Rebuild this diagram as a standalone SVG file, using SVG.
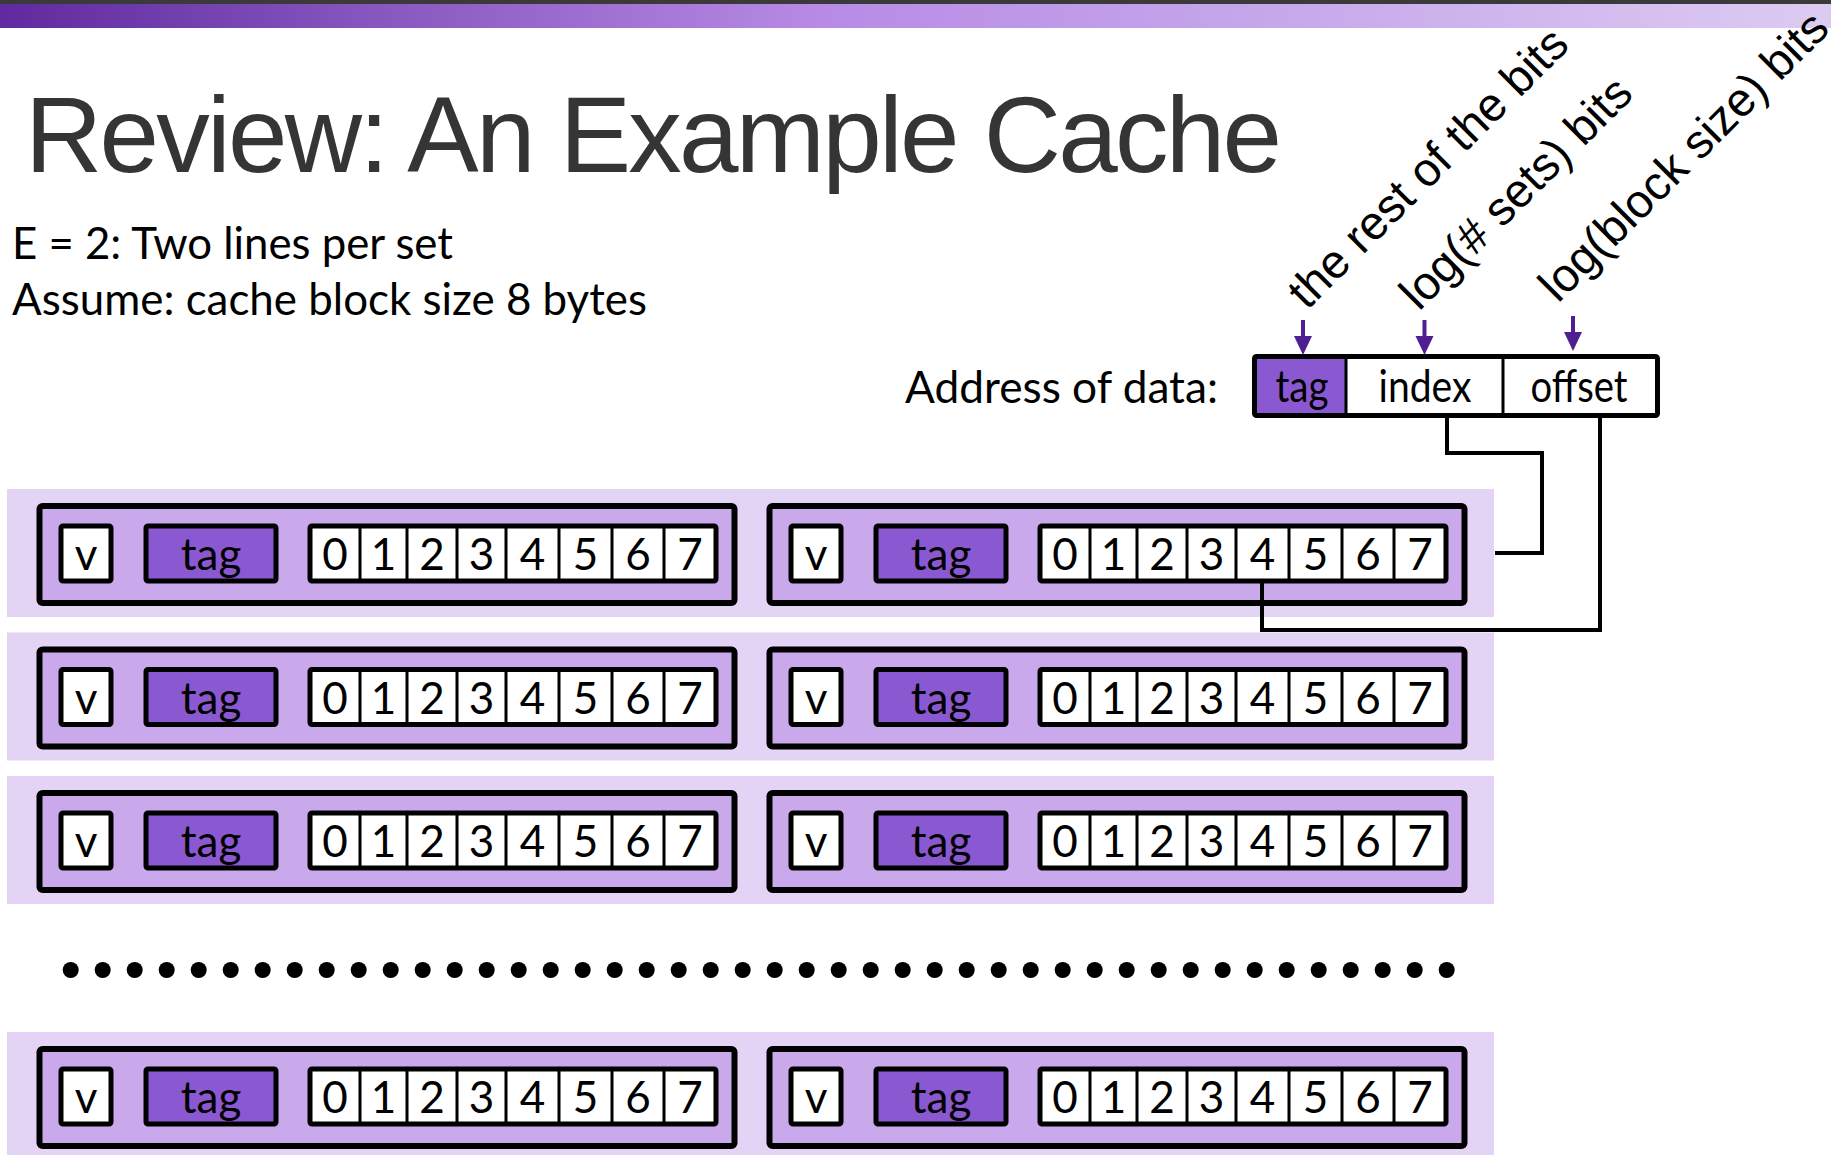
<svg xmlns="http://www.w3.org/2000/svg" width="1831" height="1155" viewBox="0 0 1831 1155">
<defs>
<linearGradient id="band" x1="0" y1="0" x2="1" y2="0">
<stop offset="0" stop-color="#5f2a9f"/>
<stop offset="0.45" stop-color="#b78be6"/>
<stop offset="0.7" stop-color="#c6a8eb"/>
<stop offset="1" stop-color="#ddcbf2"/>
</linearGradient>
<style>
.bg{fill:#e3d3f5}
.ln{fill:#c9a9ec;stroke:#000;stroke-width:6}
.wb{fill:#fff;stroke:#000;stroke-width:5}
.tg{fill:#8a58d0;stroke:#000;stroke-width:5}
.dv{fill:none;stroke:#000;stroke-width:3}
.t{font-family:Lato,"Open Sans",sans-serif;font-size:44px;text-anchor:middle;fill:#000}
.body{font-family:Lato,"Open Sans",sans-serif;font-size:44px;fill:#000}
.diag{font-family:"Liberation Sans",Arial,sans-serif;font-size:47px;fill:#000}
.conn{fill:none;stroke:#000;stroke-width:4}
.arr{stroke:#4f1f91;stroke-width:4;fill:none}
.ah{fill:#4f1f91}
.dot{fill:#000}
</style>
</defs>
<rect x="0" y="0" width="1831" height="1155" fill="#fff"/>
<rect x="0" y="0" width="1831" height="4" fill="#3a3a3a"/>
<rect x="0" y="4" width="1831" height="24" fill="url(#band)"/>

<g id="title">
<text x="25" y="172" font-family="'Liberation Sans',Arial,sans-serif" font-size="107" fill="#353535" textLength="1257" lengthAdjust="spacing">Review: An Example Cache</text>
</g>
<g id="notes">
<text class="body" x="12" y="259" textLength="441" lengthAdjust="spacingAndGlyphs">E = 2: Two lines per set</text>
<text class="body" x="12" y="315" textLength="635" lengthAdjust="spacingAndGlyphs">Assume: cache block size 8 bytes</text>
</g>

<g id="labels">
<text class="diag" transform="translate(1307,311) rotate(-45)">the rest of the bits</text>
<text class="diag" transform="translate(1419,312) rotate(-45)">log(# sets) bits</text>
<text class="diag" transform="translate(1558,304) rotate(-45)">log(block size) bits</text>
</g>

<g id="address">
<text class="body" x="905" y="403" textLength="313" lengthAdjust="spacingAndGlyphs">Address of data:</text>
<rect x="1257" y="359" width="89" height="56" fill="#8a58d0"/>
<rect x="1346" y="359" width="311" height="56" fill="#fff"/>
<rect x="1254.5" y="356.5" width="403" height="59" fill="none" stroke="#000" stroke-width="5" rx="2"/>
<path class="dv" d="M1346 356.5V415.5M1503 356.5V415.5"/>
<text class="t" x="1302" y="402" textLength="53" lengthAdjust="spacingAndGlyphs">tag</text>
<text class="t" x="1425" y="402" textLength="93" lengthAdjust="spacingAndGlyphs">index</text>
<text class="t" x="1579" y="402" textLength="97" lengthAdjust="spacingAndGlyphs">offset</text>
</g>

<g id="sets">
<g id="set1">
<rect class="bg" x="7" y="489" width="1487" height="128"/>
<g id="set1-line1">
<rect class="ln" x="39.5" y="506" width="695" height="97" rx="3"/>
<rect class="wb" x="61" y="526" width="50" height="55" rx="2"/>
<text class="t" x="86" y="570">v</text>
<rect class="tg" x="146" y="526" width="130" height="55" rx="2"/>
<text class="t" x="211" y="570">tag</text>
<rect class="wb" x="310" y="526" width="406" height="55" rx="2"/>
<path class="dv" d="M360 526V581M407 526V581M457 526V581M506 526V581M559 526V581M612 526V581M664 526V581"/>
<text class="t" x="335" y="570">0</text><text class="t" x="383.5" y="570">1</text><text class="t" x="432" y="570">2</text><text class="t" x="481.5" y="570">3</text><text class="t" x="532.5" y="570">4</text><text class="t" x="585.5" y="570">5</text><text class="t" x="638" y="570">6</text><text class="t" x="690" y="570">7</text>
</g>
<g id="set1-line2" transform="translate(730,0)">
<rect class="ln" x="39.5" y="506" width="695" height="97" rx="3"/>
<rect class="wb" x="61" y="526" width="50" height="55" rx="2"/>
<text class="t" x="86" y="570">v</text>
<rect class="tg" x="146" y="526" width="130" height="55" rx="2"/>
<text class="t" x="211" y="570">tag</text>
<rect class="wb" x="310" y="526" width="406" height="55" rx="2"/>
<path class="dv" d="M360 526V581M407 526V581M457 526V581M506 526V581M559 526V581M612 526V581M664 526V581"/>
<text class="t" x="335" y="570">0</text><text class="t" x="383.5" y="570">1</text><text class="t" x="432" y="570">2</text><text class="t" x="481.5" y="570">3</text><text class="t" x="532.5" y="570">4</text><text class="t" x="585.5" y="570">5</text><text class="t" x="638" y="570">6</text><text class="t" x="690" y="570">7</text>
</g>
</g>

<g id="set2" transform="translate(0,143.5)">
<rect class="bg" x="7" y="489" width="1487" height="128"/>
<g id="set2-line1">
<rect class="ln" x="39.5" y="506" width="695" height="97" rx="3"/>
<rect class="wb" x="61" y="526" width="50" height="55" rx="2"/>
<text class="t" x="86" y="570">v</text>
<rect class="tg" x="146" y="526" width="130" height="55" rx="2"/>
<text class="t" x="211" y="570">tag</text>
<rect class="wb" x="310" y="526" width="406" height="55" rx="2"/>
<path class="dv" d="M360 526V581M407 526V581M457 526V581M506 526V581M559 526V581M612 526V581M664 526V581"/>
<text class="t" x="335" y="570">0</text><text class="t" x="383.5" y="570">1</text><text class="t" x="432" y="570">2</text><text class="t" x="481.5" y="570">3</text><text class="t" x="532.5" y="570">4</text><text class="t" x="585.5" y="570">5</text><text class="t" x="638" y="570">6</text><text class="t" x="690" y="570">7</text>
</g>
<g id="set2-line2" transform="translate(730,0)">
<rect class="ln" x="39.5" y="506" width="695" height="97" rx="3"/>
<rect class="wb" x="61" y="526" width="50" height="55" rx="2"/>
<text class="t" x="86" y="570">v</text>
<rect class="tg" x="146" y="526" width="130" height="55" rx="2"/>
<text class="t" x="211" y="570">tag</text>
<rect class="wb" x="310" y="526" width="406" height="55" rx="2"/>
<path class="dv" d="M360 526V581M407 526V581M457 526V581M506 526V581M559 526V581M612 526V581M664 526V581"/>
<text class="t" x="335" y="570">0</text><text class="t" x="383.5" y="570">1</text><text class="t" x="432" y="570">2</text><text class="t" x="481.5" y="570">3</text><text class="t" x="532.5" y="570">4</text><text class="t" x="585.5" y="570">5</text><text class="t" x="638" y="570">6</text><text class="t" x="690" y="570">7</text>
</g>
</g>

<g id="set3" transform="translate(0,287)">
<rect class="bg" x="7" y="489" width="1487" height="128"/>
<g id="set3-line1">
<rect class="ln" x="39.5" y="506" width="695" height="97" rx="3"/>
<rect class="wb" x="61" y="526" width="50" height="55" rx="2"/>
<text class="t" x="86" y="570">v</text>
<rect class="tg" x="146" y="526" width="130" height="55" rx="2"/>
<text class="t" x="211" y="570">tag</text>
<rect class="wb" x="310" y="526" width="406" height="55" rx="2"/>
<path class="dv" d="M360 526V581M407 526V581M457 526V581M506 526V581M559 526V581M612 526V581M664 526V581"/>
<text class="t" x="335" y="570">0</text><text class="t" x="383.5" y="570">1</text><text class="t" x="432" y="570">2</text><text class="t" x="481.5" y="570">3</text><text class="t" x="532.5" y="570">4</text><text class="t" x="585.5" y="570">5</text><text class="t" x="638" y="570">6</text><text class="t" x="690" y="570">7</text>
</g>
<g id="set3-line2" transform="translate(730,0)">
<rect class="ln" x="39.5" y="506" width="695" height="97" rx="3"/>
<rect class="wb" x="61" y="526" width="50" height="55" rx="2"/>
<text class="t" x="86" y="570">v</text>
<rect class="tg" x="146" y="526" width="130" height="55" rx="2"/>
<text class="t" x="211" y="570">tag</text>
<rect class="wb" x="310" y="526" width="406" height="55" rx="2"/>
<path class="dv" d="M360 526V581M407 526V581M457 526V581M506 526V581M559 526V581M612 526V581M664 526V581"/>
<text class="t" x="335" y="570">0</text><text class="t" x="383.5" y="570">1</text><text class="t" x="432" y="570">2</text><text class="t" x="481.5" y="570">3</text><text class="t" x="532.5" y="570">4</text><text class="t" x="585.5" y="570">5</text><text class="t" x="638" y="570">6</text><text class="t" x="690" y="570">7</text>
</g>
</g>

<g id="set-last" transform="translate(0,543)">
<rect class="bg" x="7" y="489" width="1487" height="128"/>
<g id="setlast-line1">
<rect class="ln" x="39.5" y="506" width="695" height="97" rx="3"/>
<rect class="wb" x="61" y="526" width="50" height="55" rx="2"/>
<text class="t" x="86" y="570">v</text>
<rect class="tg" x="146" y="526" width="130" height="55" rx="2"/>
<text class="t" x="211" y="570">tag</text>
<rect class="wb" x="310" y="526" width="406" height="55" rx="2"/>
<path class="dv" d="M360 526V581M407 526V581M457 526V581M506 526V581M559 526V581M612 526V581M664 526V581"/>
<text class="t" x="335" y="570">0</text><text class="t" x="383.5" y="570">1</text><text class="t" x="432" y="570">2</text><text class="t" x="481.5" y="570">3</text><text class="t" x="532.5" y="570">4</text><text class="t" x="585.5" y="570">5</text><text class="t" x="638" y="570">6</text><text class="t" x="690" y="570">7</text>
</g>
<g id="setlast-line2" transform="translate(730,0)">
<rect class="ln" x="39.5" y="506" width="695" height="97" rx="3"/>
<rect class="wb" x="61" y="526" width="50" height="55" rx="2"/>
<text class="t" x="86" y="570">v</text>
<rect class="tg" x="146" y="526" width="130" height="55" rx="2"/>
<text class="t" x="211" y="570">tag</text>
<rect class="wb" x="310" y="526" width="406" height="55" rx="2"/>
<path class="dv" d="M360 526V581M407 526V581M457 526V581M506 526V581M559 526V581M612 526V581M664 526V581"/>
<text class="t" x="335" y="570">0</text><text class="t" x="383.5" y="570">1</text><text class="t" x="432" y="570">2</text><text class="t" x="481.5" y="570">3</text><text class="t" x="532.5" y="570">4</text><text class="t" x="585.5" y="570">5</text><text class="t" x="638" y="570">6</text><text class="t" x="690" y="570">7</text>
</g>
</g>
</g>

<g id="ellipsis">
<circle class="dot" cx="70.7" cy="970" r="8"/><circle class="dot" cx="102.7" cy="970" r="8"/><circle class="dot" cx="134.7" cy="970" r="8"/><circle class="dot" cx="166.7" cy="970" r="8"/><circle class="dot" cx="198.7" cy="970" r="8"/><circle class="dot" cx="230.7" cy="970" r="8"/><circle class="dot" cx="262.7" cy="970" r="8"/><circle class="dot" cx="294.7" cy="970" r="8"/><circle class="dot" cx="326.7" cy="970" r="8"/><circle class="dot" cx="358.7" cy="970" r="8"/>
<circle class="dot" cx="390.7" cy="970" r="8"/><circle class="dot" cx="422.7" cy="970" r="8"/><circle class="dot" cx="454.7" cy="970" r="8"/><circle class="dot" cx="486.7" cy="970" r="8"/><circle class="dot" cx="518.7" cy="970" r="8"/><circle class="dot" cx="550.7" cy="970" r="8"/><circle class="dot" cx="582.7" cy="970" r="8"/><circle class="dot" cx="614.7" cy="970" r="8"/><circle class="dot" cx="646.7" cy="970" r="8"/><circle class="dot" cx="678.7" cy="970" r="8"/>
<circle class="dot" cx="710.7" cy="970" r="8"/><circle class="dot" cx="742.7" cy="970" r="8"/><circle class="dot" cx="774.7" cy="970" r="8"/><circle class="dot" cx="806.7" cy="970" r="8"/><circle class="dot" cx="838.7" cy="970" r="8"/><circle class="dot" cx="870.7" cy="970" r="8"/><circle class="dot" cx="902.7" cy="970" r="8"/><circle class="dot" cx="934.7" cy="970" r="8"/><circle class="dot" cx="966.7" cy="970" r="8"/><circle class="dot" cx="998.7" cy="970" r="8"/>
<circle class="dot" cx="1030.7" cy="970" r="8"/><circle class="dot" cx="1062.7" cy="970" r="8"/><circle class="dot" cx="1094.7" cy="970" r="8"/><circle class="dot" cx="1126.7" cy="970" r="8"/><circle class="dot" cx="1158.7" cy="970" r="8"/><circle class="dot" cx="1190.7" cy="970" r="8"/><circle class="dot" cx="1222.7" cy="970" r="8"/><circle class="dot" cx="1254.7" cy="970" r="8"/><circle class="dot" cx="1286.7" cy="970" r="8"/><circle class="dot" cx="1318.7" cy="970" r="8"/>
<circle class="dot" cx="1350.7" cy="970" r="8"/><circle class="dot" cx="1382.7" cy="970" r="8"/><circle class="dot" cx="1414.7" cy="970" r="8"/><circle class="dot" cx="1446.7" cy="970" r="8"/>
</g>

<g id="connectors">
<path class="conn" d="M1447 418V453H1542V553H1495"/>
<path class="conn" d="M1600 418V630H1262V583"/>
<path class="arr" d="M1303 320V340"/><polygon class="ah" points="1294,336 1312,336 1303,355"/>
<path class="arr" d="M1424.5 320V340"/><polygon class="ah" points="1415.5,336 1433.5,336 1424.5,355"/>
<path class="arr" d="M1573 316V336"/><polygon class="ah" points="1564,332 1582,332 1573,351"/>
</g>
</svg>
